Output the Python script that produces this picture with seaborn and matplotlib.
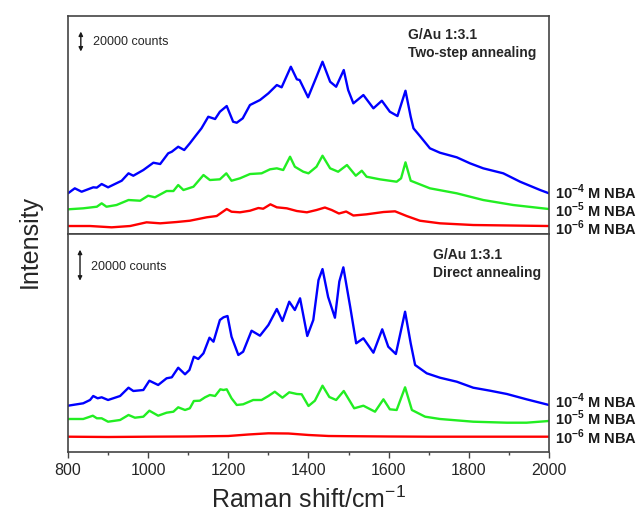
import matplotlib
matplotlib.use("Agg")
import matplotlib.pyplot as plt
import seaborn as sns
from matplotlib.ticker import MultipleLocator

# ---- data (intensity in counts) ----
# top panel: G/Au 1:3.1, two-step annealing
top_blue_x = [800, 817, 834, 863, 872, 884, 900, 934, 951, 963, 988, 1013, 1030, 1050, 1059, 1075, 1090,
              1104, 1118, 1133, 1150, 1167, 1179, 1196, 1212, 1221, 1236, 1254, 1279, 1300, 1321, 1333,
              1356, 1371, 1378, 1399, 1420, 1435, 1454, 1469, 1488, 1499, 1512, 1537, 1562, 1583, 1603,
              1622, 1642, 1655, 1662, 1678, 1703, 1728, 1770, 1803, 1836, 1886, 1928, 1978, 2000]
top_blue_y = [40700, 45700, 42300, 46700, 46400, 50000, 46700, 53300, 60700, 58300, 64000, 71300, 70000,
              80700, 82300, 87300, 84000, 90700, 98000, 105700, 117300, 115000, 122300, 128000, 112300,
              111300, 115700, 129000, 134000, 140700, 149000, 146700, 167300, 154700, 154000, 136700,
              157300, 172300, 152300, 147300, 164000, 144000, 130700, 139000, 125700, 133300, 122300,
              118000, 143300, 117300, 105700, 98000, 85700, 81300, 76700, 70700, 65700, 60700, 52300,
              44000, 40700]

top_green_x = [800, 838, 872, 884, 896, 921, 951, 980, 1000, 1017, 1046, 1063, 1075, 1088, 1113, 1138,
               1154, 1179, 1195, 1208, 1229, 1254, 1283, 1304, 1321, 1337, 1354, 1366, 1387, 1400, 1420,
               1435, 1454, 1474, 1496, 1518, 1533, 1545, 1578, 1620, 1631, 1642, 1655, 1703, 1770, 1836,
               1911, 2000]
top_green_y = [24700, 25700, 27300, 30700, 27300, 29000, 34000, 33300, 38300, 36700, 43000, 43000, 49000,
               44000, 47300, 59000, 54000, 54700, 60700, 53300, 55700, 60000, 60700, 64700, 65700, 64000,
               77300, 67300, 62300, 60700, 67300, 78300, 65700, 62300, 69000, 58300, 63300, 57300, 54700,
               52300, 55700, 71700, 53300, 45700, 40700, 34000, 29000, 25000]

top_red_x = [800, 855, 909, 955, 996, 1030, 1071, 1104, 1146, 1171, 1196, 1208, 1229, 1254, 1275, 1287,
             1305, 1321, 1346, 1371, 1396, 1420, 1441, 1458, 1476, 1494, 1512, 1545, 1587, 1616, 1645,
             1678, 1728, 1811, 2000]
top_red_y = [8000, 8000, 6700, 8000, 11700, 10700, 12000, 13300, 16700, 18000, 25000, 22300, 21700, 23300,
             26000, 25300, 29700, 26700, 25700, 23000, 21700, 24000, 26500, 24000, 20500, 22500, 18500,
             19700, 22000, 22700, 18000, 13300, 10700, 9000, 8000]

# bottom panel: G/Au 1:3.1, direct annealing
bot_blue_x = [800, 838, 855, 863, 874, 884, 900, 930, 951, 963, 988, 1003, 1025, 1046, 1059, 1075, 1092,
              1103, 1114, 1125, 1138, 1153, 1163, 1179, 1188, 1198, 1208, 1225, 1237, 1258, 1279, 1300,
              1321, 1335, 1352, 1366, 1379, 1397, 1412, 1425, 1435, 1449, 1466, 1477, 1487, 1504, 1519,
              1537, 1562, 1584, 1599, 1618, 1641, 1655, 1666, 1695, 1728, 1770, 1811, 1853, 1895, 1944,
              2000]
bot_blue_y = [29860, 31410, 33540, 36120, 34640, 35280, 33540, 36120, 41470, 39350, 39990, 45990, 43220,
              47540, 48180, 54370, 50120, 52890, 61470, 59990, 63660, 73720, 71140, 85140, 86880, 87720,
              74370, 62570, 64690, 78240, 75010, 81920, 92240, 84500, 96940, 91590, 99140, 74820, 85140,
              110900, 118000, 100000, 86620, 110000, 119100, 93720, 70110, 73340, 64050, 79140, 67920,
              63210, 90490, 70110, 56120, 50760, 47920, 45340, 41470, 39540, 37410, 33990, 30320]

bot_green_x = [800, 838, 862, 872, 884, 900, 930, 951, 967, 988, 1003, 1025, 1046, 1063, 1075, 1092, 1104,
               1114, 1129, 1142, 1154, 1167, 1180, 1188, 1196, 1208, 1221, 1237, 1262, 1283, 1300, 1316,
               1335, 1352, 1371, 1383, 1400, 1416, 1435, 1452, 1469, 1488, 1514, 1537, 1566, 1587, 1603,
               1620, 1641, 1658, 1691, 1728, 1811, 1895, 1944, 2000]
bot_green_y = [21290, 21290, 23410, 21740, 21740, 19540, 20640, 23870, 22120, 22770, 26640, 23410, 25350,
               25990, 28830, 27090, 28190, 32900, 33090, 35280, 36770, 36120, 40440, 39990, 40440, 34640,
               30320, 30770, 33540, 33540, 36120, 38890, 35020, 38510, 37410, 37220, 29670, 33090, 42760,
               35480, 33540, 39350, 28190, 29860, 25990, 33990, 27540, 27090, 41730, 27090, 22770, 21290,
               19540, 18900, 18900, 20000]

bot_red_x = [800, 900, 1000, 1100, 1200, 1250, 1300, 1350, 1400, 1450, 1500, 1600, 1700, 1800, 2000]
bot_red_y = [9870, 9680, 9870, 10000, 10320, 11290, 12060, 11930, 10970, 10320, 10190, 10000, 9870, 9870,
             9870]

labels = ["10$^{\\mathbf{-4}}$ M NBA", "10$^{\\mathbf{-5}}$ M NBA", "10$^{\\mathbf{-6}}$ M NBA"]
top_label_y = [42000, 24000, 6000]
bot_label_y = [32900, 21700, 9400]
colors = ["#0000ff", "#22ee22", "#ff0000"]

sns.set_theme(style="ticks")
plt.rcParams["font.family"] = ["Liberation Sans", "DejaVu Sans"]
plt.rcParams["mathtext.fontset"] = "custom"
plt.rcParams["mathtext.rm"] = "Liberation Sans"
plt.rcParams["mathtext.bf"] = "Liberation Sans:bold"

fig = plt.figure(figsize=(6.42, 5.19), dpi=100)
ax_top = fig.add_axes([0.1059, 0.5491, 0.7492, 0.42])
ax_bot = fig.add_axes([0.1059, 0.1291, 0.7492, 0.42])

top_series = [(top_blue_x, top_blue_y), (top_green_x, top_green_y), (top_red_x, top_red_y)]
bot_series = [(bot_blue_x, bot_blue_y), (bot_green_x, bot_green_y), (bot_red_x, bot_red_y)]

for ax, series, label_y, ymax in [(ax_top, top_series, top_label_y, 218000),
                                  (ax_bot, bot_series, bot_label_y, 140600)]:
    for (xs, ys), c, lab, ly in zip(series, colors, labels, label_y):
        sns.lineplot(x=xs, y=ys, ax=ax, color=c, linewidth=1.7, sort=False)
        # concentration label to the right of each curve end
        ax.text(1.012, ly, lab, transform=ax.get_yaxis_transform(), ha="left", va="center",
                fontsize=10.5, fontweight="bold", color="k")
    ax.set_xlim(800, 2000)
    ax.set_ylim(0, ymax)
    ax.set_yticks([])
    ax.set_ylabel("")
    for s in ax.spines.values():
        s.set_visible(True)
        s.set_color("#444444")
        s.set_linewidth(1.2)

ax_top.tick_params(axis="x", bottom=False, labelbottom=False)

ax_bot.xaxis.set_major_locator(MultipleLocator(200))
ax_bot.xaxis.set_minor_locator(MultipleLocator(100))
ax_bot.tick_params(axis="x", which="major", direction="out", length=4, width=1, color="#444444",
                   labelsize=11.5, pad=4)
ax_bot.tick_params(axis="x", which="minor", direction="out", length=2.5, width=1, color="#444444")

# scale bars
ax_top.annotate("", xy=(832, 182500), xytext=(832, 202500),
                arrowprops=dict(arrowstyle="<|-|>", color="k", lw=1, mutation_scale=6, shrinkA=0, shrinkB=0))
ax_top.text(862, 192500, "20000 counts", fontsize=9, va="center", ha="left")
ax_bot.annotate("", xy=(830, 110500), xytext=(830, 130500),
                arrowprops=dict(arrowstyle="<|-|>", color="k", lw=1, mutation_scale=6, shrinkA=0, shrinkB=0))
ax_bot.text(857, 119300, "20000 counts", fontsize=9, va="center", ha="left")

ax_top.text(0.707, 0.945, "G/Au 1:3.1\nTwo-step annealing", transform=ax_top.transAxes,
            ha="left", va="top", fontsize=10, fontweight="bold", linespacing=1.35)
ax_bot.text(0.759, 0.935, "G/Au 1:3.1\nDirect annealing", transform=ax_bot.transAxes,
            ha="left", va="top", fontsize=10, fontweight="bold", linespacing=1.35)

ax_bot.set_xlabel("Raman shift/cm$^{-1}$", fontsize=18, labelpad=6)
fig.text(0.047, 0.535, "Intensity", rotation=90, fontsize=18, ha="center", va="center")

fig.savefig("out.png", dpi=100)
